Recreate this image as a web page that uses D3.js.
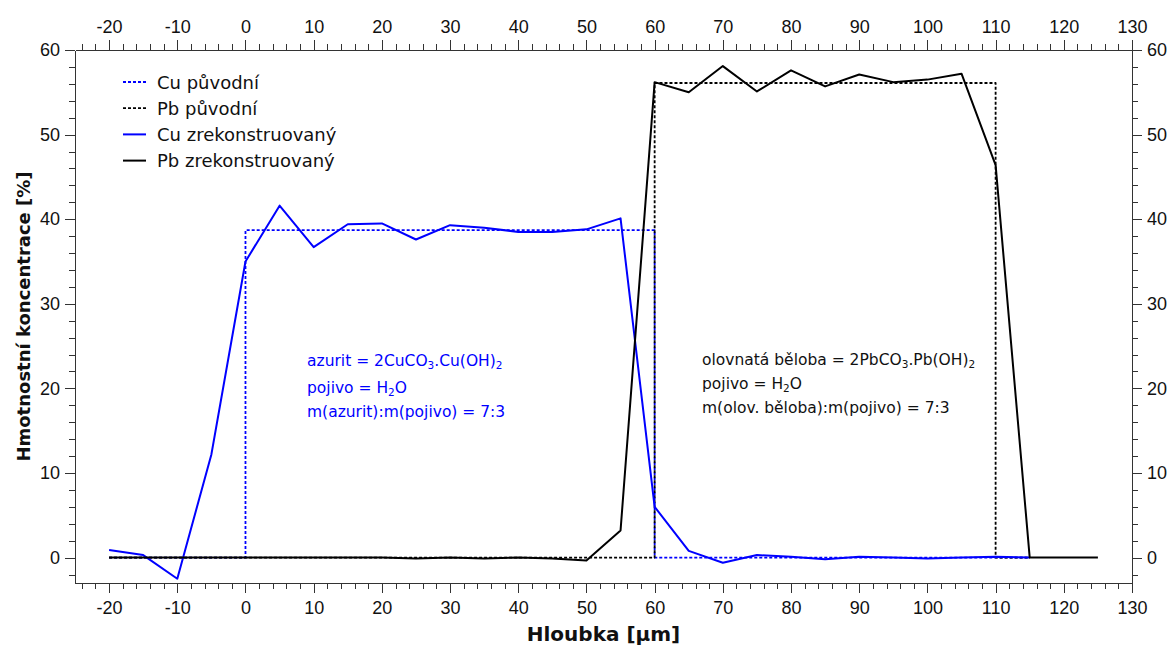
<!DOCTYPE html>
<html>
<head>
<meta charset="utf-8">
<script src="https://cdn.jsdelivr.net/npm/d3@7"></script>
<style>
  html, body { margin: 0; padding: 0; background: #fff; }
  svg { display: block; font-family: "DejaVu Sans", Verdana, sans-serif; }
  .axis path, .axis line { stroke: #333; stroke-width: 1; shape-rendering: crispEdges; }
  .axis text { fill: #111; font-size: 18px; }
</style>
</head>
<body>
<svg id="chart" width="1174" height="646"></svg>
<script>
// Depth profile: reconstructed Cu / Pb concentrations vs. depth
const depth = [-20, -15, -10, -5, 0, 5, 10, 15, 20, 25, 30, 35, 40, 45, 50, 55,
               60, 65, 70, 75, 80, 85, 90, 95, 100, 105, 110, 115, 120, 125];

const cuReconstructed = [0.9, 0.3, -2.5, 12.2, 35.0, 41.6, 36.7, 39.4, 39.5, 37.6, 39.3, 39.0, 38.5, 38.5, 38.8, 40.1,
                         6.0, 0.8, -0.6, 0.3, 0.1, -0.2, 0.1, 0.0, -0.1, 0.0, 0.1, 0.0];

const pbReconstructed = [0.0, 0.0, 0.0, 0.0, 0.0, 0.0, 0.0, 0.0, 0.0, -0.1, 0.0, -0.1, 0.0, -0.1, -0.35, 3.2,
                         56.2, 55.0, 58.1, 55.1, 57.6, 55.7, 57.1, 56.2, 56.5, 57.2, 46.4, 0.0, 0.0, 0.0];

// Original (layer model) step profiles
const cuOriginalDepth = [-20, 0, 0, 60, 60, 115];
const cuOriginal      = [0, 0, 38.7, 38.7, 0, 0];
const pbOriginalDepth = [-20, 60, 60, 110, 110, 115];
const pbOriginal      = [0, 0, 56.1, 56.1, 0, 0];

const xMajorTicks = d3.range(-20, 131, 10);
const yMajorTicks = d3.range(0, 61, 10);

const legendLabels = ["Cu původní", "Pb původní", "Cu zrekonstruovaný", "Pb zrekonstruovaný"];

const BLUE = "#0000ff";
const BLACK = "#000000";

const svg = d3.select("#chart");
const plotLeft = 75, plotRight = 1132, plotTop = 50, plotBottom = 583;

const x = d3.scaleLinear().domain([-25, 130]).range([plotLeft, plotRight]);
const y = d3.scaleLinear().domain([-3, 60]).range([plotBottom, plotTop]);

const xMinor = d3.range(-24, 131, 2).filter(v => v % 10 !== 0);
const yMinor = d3.range(-2, 61, 2).filter(v => v % 10 !== 0);

// plain hyphen-minus for negative tick labels
const tickText = d => String(d);

function addAxis(axisFn, scale, transform, majors, minors, pad) {
  const gMinor = svg.append("g").attr("class", "axis").attr("transform", transform)
    .call(axisFn(scale).tickValues(minors).tickSize(6).tickSizeOuter(0).tickFormat(""));
  gMinor.select(".domain").remove();
  svg.append("g").attr("class", "axis").attr("transform", transform)
    .call(axisFn(scale).tickValues(majors).tickSize(10).tickSizeOuter(0).tickPadding(pad).tickFormat(tickText));
}

addAxis(d3.axisBottom, x, `translate(0,${plotBottom})`, xMajorTicks, xMinor, 8);
addAxis(d3.axisTop, x, `translate(0,${plotTop})`, xMajorTicks, xMinor, 7);
addAxis(d3.axisLeft, y, `translate(${plotLeft},0)`, yMajorTicks, yMinor, 5);
addAxis(d3.axisRight, y, `translate(${plotRight},0)`, yMajorTicks, yMinor, 5);

// Axis titles
svg.append("text")
  .attr("x", (plotLeft + plotRight) / 2).attr("y", 641)
  .attr("text-anchor", "middle")
  .attr("font-weight", "bold").attr("font-size", 20).attr("fill", "#111")
  .text("Hloubka [µm]");

svg.append("text")
  .attr("transform", `translate(30,${(plotTop + plotBottom) / 2}) rotate(-90)`)
  .attr("text-anchor", "middle")
  .attr("font-weight", "bold").attr("font-size", 18).attr("fill", "#111")
  .text("Hmotnostní koncentrace [%]");

// Series
const line = d3.line().x(d => x(d[0])).y(d => y(d[1]));
const zip = (xs, ys) => ys.map((v, i) => [xs[i], v]);

const series = [
  { pts: zip(cuOriginalDepth, cuOriginal), color: BLUE, dash: "3,2", width: 1.8 },
  { pts: zip(pbOriginalDepth, pbOriginal), color: BLACK, dash: "3,2", width: 1.8 },
  { pts: zip(depth, cuReconstructed), color: BLUE, dash: null, width: 2 },
  { pts: zip(depth, pbReconstructed), color: BLACK, dash: null, width: 2 }
];

series.forEach(s => {
  svg.append("path")
    .attr("d", line(s.pts))
    .attr("fill", "none")
    .attr("stroke", s.color)
    .attr("stroke-width", s.width)
    .attr("stroke-dasharray", s.dash)
    .attr("stroke-linejoin", "round");
});

// Legend
const legend = svg.append("g");
legendLabels.forEach((label, i) => {
  const s = series[i];
  const ly = 82 + i * 26.2;
  legend.append("line")
    .attr("x1", 123).attr("x2", 146).attr("y1", ly).attr("y2", ly)
    .attr("stroke", s.color).attr("stroke-width", s.width)
    .attr("stroke-dasharray", s.dash);
  legend.append("text")
    .attr("x", 157).attr("y", ly + 6.5)
    .attr("font-size", 18).attr("fill", "#111")
    .text(label);
});

// Composition notes; parts are [text, isSubscript]
function note(x0, baselines, lines, color) {
  lines.forEach((parts, i) => {
    const t = svg.append("text")
      .attr("x", x0).attr("y", baselines[i])
      .attr("font-size", 15.5).attr("fill", color);
    parts.forEach(([txt, sub]) => {
      const ts = t.append("tspan").text(txt);
      if (sub) ts.attr("font-size", 10.5).attr("baseline-shift", "-25%");
    });
  });
}

note(307, [366, 393, 417], [
  [["azurit = 2CuCO", false], ["3", true], [".Cu(OH)", false], ["2", true]],
  [["pojivo = H", false], ["2", true], ["O", false]],
  [["m(azurit):m(pojivo) = 7:3", false]]
], BLUE);

note(702, [365, 388.5, 413], [
  [["olovnatá běloba = 2PbCO", false], ["3", true], [".Pb(OH)", false], ["2", true]],
  [["pojivo = H", false], ["2", true], ["O", false]],
  [["m(olov. běloba):m(pojivo) = 7:3", false]]
], "#111");
</script>
</body>
</html>
